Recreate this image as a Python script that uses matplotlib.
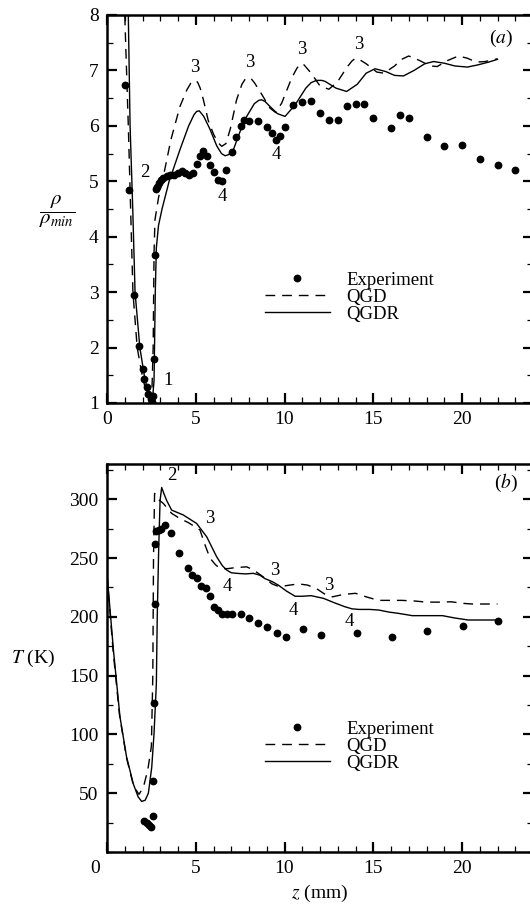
import matplotlib
matplotlib.use("Agg")
import matplotlib.pyplot as plt
from matplotlib.ticker import MultipleLocator
from matplotlib.transforms import ScaledTranslation

plt.rcParams['font.family'] = ['Liberation Serif', 'DejaVu Serif']
plt.rcParams['mathtext.fontset'] = 'stix'
plt.rcParams['font.size'] = 13.5

# (a) density ratio rho/rho_min along the jet axis
rho_exp_z = [1.0, 1.22, 1.52, 1.80, 2.01, 2.10, 2.23, 2.33, 2.46, 2.55, 2.61, 2.65,
             2.70, 2.76, 2.84, 2.95, 3.05, 3.17, 3.36, 3.55, 3.78, 4.02, 4.21, 4.40,
             4.64, 4.86, 5.05, 5.24, 5.43, 5.65, 5.80, 6.03, 6.27, 6.46, 6.71, 7.02,
             7.27, 7.53, 7.74, 8.02, 8.53, 9.03, 9.27, 9.52, 9.75, 10.03, 10.5, 11.0,
             11.5, 12.0, 12.5, 13.0, 13.5, 14.0, 14.5, 15.0, 16.0, 16.5, 17.0, 18.0,
             19.0, 20.0, 21.0, 22.0, 23.0]
rho_exp = [6.73, 4.84, 2.95, 2.02, 1.61, 1.43, 1.28, 1.17, 1.08, 1.02, 1.13, 1.79,
           3.67, 4.86, 4.90, 4.96, 5.02, 5.05, 5.09, 5.11, 5.12, 5.15, 5.18, 5.15,
           5.12, 5.15, 5.31, 5.45, 5.54, 5.45, 5.30, 5.16, 5.03, 5.01, 5.21, 5.53,
           5.79, 6.00, 6.11, 6.09, 6.09, 5.97, 5.87, 5.74, 5.81, 5.98, 6.37, 6.43,
           6.45, 6.24, 6.11, 6.11, 6.35, 6.39, 6.39, 6.14, 5.96, 6.19, 6.14, 5.80,
           5.64, 5.65, 5.40, 5.30, 5.21]

rho_qgd_z = [0.95, 1.0, 1.1, 1.2, 1.33, 1.46, 1.7, 1.95, 2.2, 2.38, 2.52, 2.6, 2.65,
             2.70, 2.9, 3.17, 3.6, 4.11, 4.5, 4.72, 4.92, 5.1, 5.25, 5.43, 5.7, 6.0,
             6.25, 6.46, 6.7, 6.95, 7.3, 7.6, 7.8, 7.96, 8.12, 8.3, 8.62, 9.18, 9.5,
             9.84, 10.4, 10.7, 10.9, 11.1, 11.5, 12.0, 12.5, 13.0, 13.5, 13.8, 14.0,
             14.2, 14.6, 15.2, 15.6, 16.2, 16.6, 17.0, 17.6, 18.2, 18.6, 19.2, 19.8,
             20.3, 20.8, 21.3, 22.0]
rho_qgd = [8.4, 8.0, 7.0, 6.0, 4.5, 3.0, 2.0, 1.55, 1.2, 1.05, 1.1, 2.0, 3.7,
           4.3, 4.7, 5.08, 5.75, 6.35, 6.65, 6.77, 6.82, 6.79, 6.68, 6.47, 6.1, 5.85,
           5.7, 5.63, 5.68, 5.95, 6.47, 6.75, 6.85, 6.87, 6.85, 6.78, 6.62, 6.32, 6.24,
           6.41, 6.86, 7.04, 7.12, 7.1, 6.95, 6.72, 6.66, 6.8, 7.05, 7.17, 7.22,
           7.2, 7.12, 6.97, 6.95, 7.08, 7.2, 7.26, 7.18, 7.08, 7.07, 7.18, 7.26,
           7.22, 7.15, 7.16, 7.21]

rho_qgdr_z = [1.17, 1.2, 1.25, 1.3, 1.45, 1.58, 1.85, 2.1, 2.3, 2.45, 2.55, 2.65, 2.72,
              2.78, 2.9, 3.1, 3.5, 4.11, 4.6, 4.9, 5.05, 5.2, 5.45, 5.8, 6.18, 6.45,
              6.65, 6.85, 7.12, 7.5, 7.87, 8.3, 8.55, 8.71, 8.9, 9.18, 9.6, 10.03, 10.6,
              11.2, 11.5, 11.8, 12.1, 12.3, 12.9, 13.5, 14.1, 14.6, 15.1, 15.7, 16.2,
              16.7, 17.3, 17.9, 18.4, 19.0, 19.6, 20.3, 20.9, 21.5, 22.0]
rho_qgdr = [8.4, 8.0, 7.0, 6.0, 4.5, 3.0, 2.0, 1.5, 1.2, 1.06, 1.02, 1.4, 3.0,
            3.8, 4.2, 4.5, 5.0, 5.57, 6.0, 6.2, 6.26, 6.27, 6.17, 5.94, 5.64, 5.5,
            5.46, 5.48, 5.57, 5.9, 6.17, 6.4, 6.46, 6.47, 6.44, 6.35, 6.22, 6.17, 6.38,
            6.68, 6.78, 6.82, 6.82, 6.8, 6.68, 6.62, 6.75, 6.95, 7.03, 6.98, 6.91,
            6.9, 7.0, 7.12, 7.16, 7.13, 7.08, 7.06, 7.1, 7.15, 7.2]

rho_marks = [("1", 3.42, 1.41), ("2", 2.14, 5.15), ("3", 4.96, 7.05), ("3", 8.06, 7.15),
             ("3", 10.97, 7.38), ("3", 14.2, 7.46), ("4", 6.52, 4.72), ("4", 9.56, 5.48)]

# (b) temperature along the jet axis
t_exp_z = [2.10, 2.23, 2.36, 2.48, 2.57, 2.61, 2.65, 2.70, 2.72, 2.78, 2.93, 3.05,
           3.27, 3.59, 4.06, 4.54, 4.81, 5.05, 5.30, 5.56, 5.80, 6.05, 6.27, 6.46,
           6.74, 7.02, 7.53, 8.02, 8.52, 9.0, 9.56, 10.06, 11.05, 12.05, 14.06, 16.07,
           18.05, 20.04, 22.05]
t_exp = [26.4, 24.4, 23.0, 21.5, 30.6, 60.6, 126.4, 210.9, 261.6, 273.2, 274.0, 275.0,
         278.0, 271.5, 254.0, 241.8, 235.5, 232.7, 226.2, 224.2, 218.0, 208.0, 205.8,
         202.4, 202.4, 202.4, 202.4, 199.4, 194.6, 191.0, 186.5, 183.0, 189.3, 184.2,
         186.5, 182.6, 188.2, 192.2, 196.4]

t_qgd_z = [0.0, 0.35, 0.7, 1.1, 1.5, 1.8, 2.05, 2.3, 2.5, 2.58, 2.62, 2.68, 2.8, 3.17,
           3.64, 4.11, 4.6, 5.24, 5.5, 5.8, 6.1, 6.37, 6.8, 7.3, 7.87, 8.24, 8.8, 9.3,
           9.7, 10.3, 10.8, 11.3, 11.8, 12.3, 12.7, 13.3, 14.0, 14.6, 15.3, 16.0, 16.6,
           17.3, 18.0, 18.8, 19.4, 20.0, 20.6, 21.3, 22.0]
t_qgd = [235, 170, 117, 80, 56, 49, 55, 70, 90, 150, 250, 305, 301, 296.5,
         288, 283.6, 280, 273.8, 262, 250, 244.5, 241, 241, 242, 242.5, 240, 234, 228,
         225.6, 227, 228, 227, 224, 219, 217, 219, 220, 217, 214, 214, 214,
         213.5, 212.5, 212.5, 212.8, 211.5, 210.9, 210.9, 210.9]

t_qgdr_z = [0.0, 0.36, 0.73, 1.1, 1.48, 1.75, 1.95, 2.15, 2.33, 2.52, 2.65, 2.78, 2.83,
            2.91, 2.99, 3.08, 3.2, 3.36, 3.64, 4.3, 5.05, 5.62, 6.18, 6.5, 6.74, 7.0,
            7.3, 7.8, 8.24, 8.6, 8.9, 9.3, 9.65, 10.1, 10.6, 11.0, 11.5, 12.2, 12.8,
            13.4, 13.8, 14.2, 14.8, 15.3, 15.9, 16.4, 17.2, 18.0, 18.9, 19.6, 20.35,
            21.2, 22.05]
t_qgdr = [237, 172, 115, 81, 58, 47, 43, 44, 50, 72, 101, 143, 200,
          257, 299, 310, 305, 299, 290.8, 286.6, 279.4, 268, 251, 243.5, 239.8, 237.5,
          237, 236.5, 237, 235.5, 232.5, 230, 227, 222, 217.5, 217.5, 218, 215.7, 212,
          208.6, 206.8, 206.3, 206.3, 205.8, 204, 203, 201, 201, 201, 199, 197.3,
          197.3, 197.3]

t_marks = [("2", 3.64, 320.6), ("3", 5.8, 283.7), ("3", 9.43, 239.8), ("3", 12.5, 227.0),
           ("4", 6.8, 225.6), ("4", 10.5, 205.8), ("4", 13.65, 195.8)]

dash = (0, (7, 5))

fig = plt.figure(figsize=(5.30, 9.08), dpi=100)
ax1 = fig.add_axes([0.2019, 0.5562, 0.8038, 0.4273])
ax2 = fig.add_axes([0.2019, 0.0617, 0.8038, 0.4273])


def style_axes(ax):
    for sp in ax.spines.values():
        sp.set_linewidth(1.8)
    ax.tick_params(which='both', direction='in', top=True, right=True,
                   labelsize=14, pad=6)
    ax.tick_params(which='major', length=7, width=1.6)
    ax.tick_params(which='minor', length=4, width=0.9)
    ax.set_xticks([0, 5, 10, 15, 20])
    ax.xaxis.set_minor_locator(MultipleLocator(1))
    ax.set_xlim(0, 24)


def draw_series(ax, ez, ev, dz, dv, sz, sv):
    ax.plot(ez, ev, 'o', color='black', ms=4.6, label='Experiment', zorder=3)
    ax.plot(dz, dv, color='black', lw=1.0, linestyle=dash, label='QGD')
    ax.plot(sz, sv, color='black', lw=1.0, label='QGDR')
    ax.legend(loc='upper left', bbox_to_anchor=(0.371, 0.339), frameon=False,
              handlelength=3.45, handletextpad=0.9, labelspacing=0.0,
              borderpad=0, borderaxespad=0, fontsize=13.5)


# --- (a) density ---
style_axes(ax1)
draw_series(ax1, rho_exp_z, rho_exp, rho_qgd_z, rho_qgd, rho_qgdr_z, rho_qgdr)
ax1.set_ylim(1, 8)
ax1.yaxis.set_major_locator(MultipleLocator(1))
ax1.yaxis.set_minor_locator(MultipleLocator(0.5))
for txt, x, y in rho_marks:
    ax1.text(x, y, txt, ha='center', va='center', fontsize=13.5)
ax1.text(22.2, 7.58, r'($a$)', ha='center', va='center', fontsize=14)
fig.text(0.1075, 0.7665, r'$\dfrac{\rho}{\rho_{min}}$', ha='center', va='center',
         fontsize=15)

# --- (b) temperature ---
style_axes(ax2)
draw_series(ax2, t_exp_z, t_exp, t_qgd_z, t_qgd, t_qgdr_z, t_qgdr)
ax2.set_ylim(0, 330)
ax2.set_yticks([50, 100, 150, 200, 250, 300])
ax2.yaxis.set_minor_locator(MultipleLocator(25))
for txt, x, y in t_marks:
    ax2.text(x, y, txt, ha='center', va='center', fontsize=13.5)
ax2.text(22.5, 313.5, r'($b$)', ha='center', va='center', fontsize=14)
fig.text(0.062, 0.2753, r'$T$ (K)', ha='center', va='center', fontsize=14)
ax2.set_xlabel(r'$z$ (mm)', fontsize=14, labelpad=4)

# the corner "0" sits a little left of its tick
zero = ax2.xaxis.get_major_ticks()[0].label1
zero.set_transform(zero.get_transform() + ScaledTranslation(-0.12, 0, fig.dpi_scale_trans))

fig.savefig('out.png', dpi=100)
